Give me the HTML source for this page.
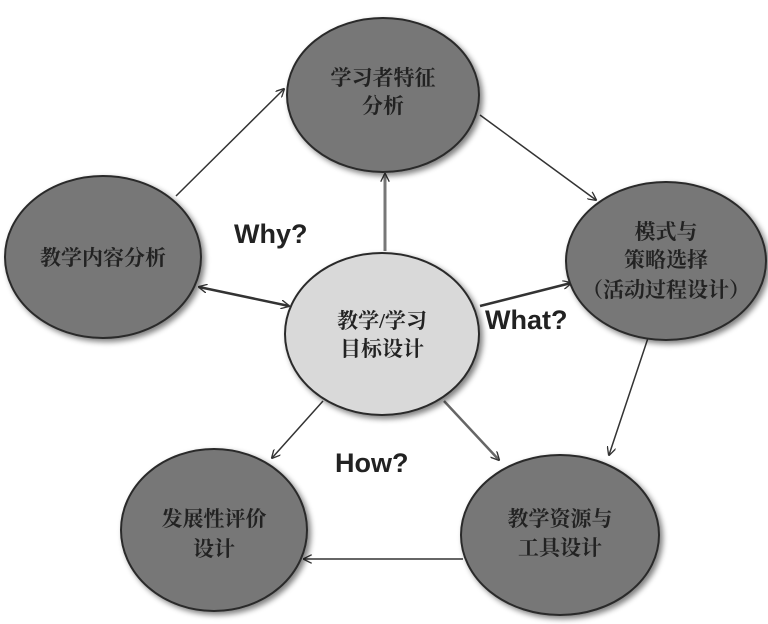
<!DOCTYPE html>
<html><head><meta charset="utf-8"><style>
html,body{margin:0;padding:0;background:#fff;}
svg{display:block;}
text{font-weight:bold;fill:#222;}
.c{font-family:"Liberation Serif","Noto Serif CJK SC",serif;}
.l{font-family:"Liberation Sans","Noto Sans CJK SC",sans-serif;}
</style></head><body>
<svg width="768" height="624" viewBox="0 0 768 624" xmlns="http://www.w3.org/2000/svg">
<defs>
<filter id="sh" x="-20%" y="-20%" width="140%" height="140%"><feGaussianBlur in="SourceAlpha" stdDeviation="3"/><feOffset dx="3" dy="3"/><feComponentTransfer><feFuncA type="linear" slope="0.5"/></feComponentTransfer><feMerge><feMergeNode/><feMergeNode in="SourceGraphic"/></feMerge></filter>
<marker id="ah" viewBox="0 0 10 10" refX="9" refY="5" markerWidth="9" markerHeight="9" orient="auto-start-reverse" markerUnits="userSpaceOnUse"><path d="M0,0 L10,5 L0,10" fill="none" stroke="#333" stroke-width="1.5"/></marker>
</defs>
<g stroke="#333" stroke-width="1.5" fill="none">
<line x1="176" y1="196" x2="284" y2="89" marker-end="url(#ah)"/>
<line x1="480" y1="115" x2="596" y2="200" marker-end="url(#ah)"/>
<line x1="650" y1="332" x2="609" y2="455" marker-end="url(#ah)"/>
<line x1="463" y1="559" x2="304" y2="559" marker-end="url(#ah)"/>
<line x1="385" y1="251" x2="385" y2="174" stroke="#777" stroke-width="3" marker-end="url(#ah)"/>
<line x1="199" y1="287" x2="289" y2="306" stroke-width="2.5" marker-start="url(#ah)" marker-end="url(#ah)"/>
<line x1="480" y1="306" x2="571" y2="283" stroke-width="2.5" marker-end="url(#ah)"/>
<line x1="323" y1="401" x2="272" y2="458" marker-end="url(#ah)"/>
<line x1="444" y1="401" x2="499" y2="460" stroke="#666" stroke-width="2.5" marker-end="url(#ah)"/>
</g>
<g stroke="#2a2a2a" stroke-width="2" filter="url(#sh)">
<ellipse cx="383" cy="95" rx="96" ry="77" fill="#777"/>
<ellipse cx="103" cy="257" rx="98" ry="81" fill="#777"/>
<ellipse cx="666" cy="261" rx="100" ry="79" fill="#777"/>
<ellipse cx="214" cy="530" rx="93" ry="81" fill="#777"/>
<ellipse cx="560" cy="535" rx="99" ry="80" fill="#777"/>
<ellipse cx="382" cy="334" rx="97" ry="81" fill="#d9d9d9"/>
</g>
<g class="c" font-size="21" text-anchor="middle">
<text x="383" y="85">学习者特征</text>
<text x="383" y="113">分析</text>
<text x="103" y="265">教学内容分析</text>
<text x="666" y="239">模式与</text>
<text x="666" y="267">策略选择</text>
<text x="666" y="297">（活动过程设计）</text>
<text x="382" y="328">教学/学习</text>
<text x="382" y="356">目标设计</text>
<text x="214" y="526">发展性评价</text>
<text x="214" y="556">设计</text>
<text x="560" y="526">教学资源与</text>
<text x="560" y="555">工具设计</text>
</g>
<g class="l" font-size="27">
<text x="234" y="243">Why?</text>
<text x="485" y="329">What?</text>
<text x="335" y="472">How?</text>
</g>
</svg>
</body></html>
